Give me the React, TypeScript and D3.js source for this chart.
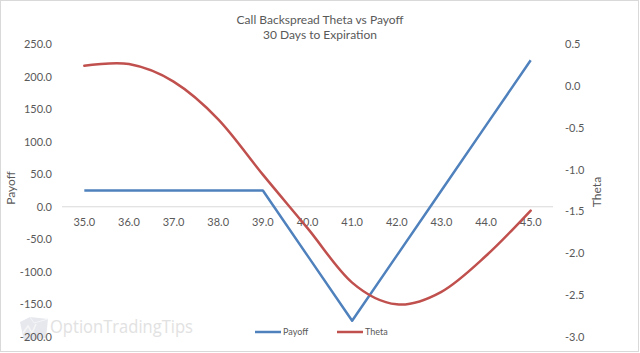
import React from "react";
import * as d3 from "d3";

const strikes = [35, 36, 37, 38, 39, 40, 41, 42, 43, 44, 45];
const payoff = [25, 25, 25, 25, 25, -75, -175, -75, 25, 125, 225];
const theta = [0.24, 0.26, 0.05, -0.4, -1.06, -1.7, -2.35, -2.61, -2.46, -2.03, -1.49];
const leftTicks = [250, 200, 150, 100, 50, 0, -50, -100, -150, -200];
const rightTicks = [0.5, 0, -0.5, -1, -1.5, -2, -2.5, -3];

const W = 640, H = 353;
const font = "Lato, 'Open Sans', sans-serif";
const txt = "#595959";

export default function App() {
  const x = d3.scaleBand<number>().domain(strikes).range([62, 553]);
  const yL = d3.scaleLinear().domain([-200, 250]).range([337, 44]);
  const yR = d3.scaleLinear().domain([-3, 0.5]).range([337, 44]);
  const cx = (s: number) => (x(s) as number) + x.bandwidth() / 2;

  const payLine = d3.line<number>().x((_, i) => cx(strikes[i])).y((d) => yL(d))(payoff) as string;
  const thetaLine = d3
    .line<number>()
    .x((_, i) => cx(strikes[i]))
    .y((d) => yR(d))
    .curve(d3.curveCardinal.tension(0))(theta) as string;

  return (
    <>
      <style>{`body{margin:0}`}</style>
      <svg width={W} height={H} style={{ display: "block", fontFamily: font }}>
        <rect x={0.5} y={0.5} width={638} height={351} fill="#fff" stroke="#d9d9d9" />
        {/* watermark */}
        <g>
          <path d="M20,322 L30,317 L48,319 L46,338 L24,341 Z" fill="#e6e8ee" />
          <path d="M30,317 L34,323 L48,319" fill="none" stroke="#f4f5f8" strokeWidth={1} />
          <path d="M23,333 L28,326 L32,333 L36,324" fill="none" stroke="#f6f6f6" strokeWidth={1.5} />
          <text x={50} y={333} fontSize={18} fill="#e2e2e2" fontFamily="'Open Sans', sans-serif"
            textLength={143} lengthAdjust="spacingAndGlyphs">
            OptionTradingTips
          </text>
        </g>
        <text x={320} y={24} textAnchor="middle" fontSize={12} fill={txt}>
          Call Backspread Theta vs Payoff
        </text>
        <text x={320} y={39} textAnchor="middle" fontSize={12} fill={txt}>
          30 Days to Expiration
        </text>
        {/* zero axis line */}
        <line x1={62} x2={553} y1={yL(0)} y2={yL(0)} stroke="#d9d9d9" strokeWidth={1} />
        {leftTicks.map((t) => (
          <text key={"l" + t} x={52} y={yL(t) + 4} textAnchor="end" fontSize={11} fill={txt}>
            {t.toFixed(1)}
          </text>
        ))}
        {rightTicks.map((t) => (
          <text key={"r" + t} x={565} y={yR(t) + 4} textAnchor="start" fontSize={11} fill={txt}>
            {t.toFixed(1)}
          </text>
        ))}
        {strikes.map((s) => (
          <text key={"x" + s} x={cx(s)} y={226} textAnchor="middle" fontSize={11} fill={txt}>
            {s.toFixed(1)}
          </text>
        ))}
        <text transform={`translate(15,188) rotate(-90)`} textAnchor="middle" fontSize={12} fill={txt}>
          Payoff
        </text>
        <text transform={`translate(601,192) rotate(-90)`} textAnchor="middle" fontSize={12} fill={txt}>
          Theta
        </text>
        <path d={payLine} fill="none" stroke="#4F81BD" strokeWidth={2.5} strokeLinejoin="round" />
        <path d={thetaLine} fill="none" stroke="#C0504D" strokeWidth={2.5} strokeLinecap="round" />
        {/* legend */}
        <line x1={255} x2={281} y1={332} y2={332} stroke="#4F81BD" strokeWidth={2.5} />
        <text x={283} y={335} fontSize={9} fill={txt}>Payoff</text>
        <line x1={337} x2={363} y1={332} y2={332} stroke="#C0504D" strokeWidth={2.5} />
        <text x={365} y={335} fontSize={9} fill={txt}>Theta</text>
      </svg>
    </>
  );
}
